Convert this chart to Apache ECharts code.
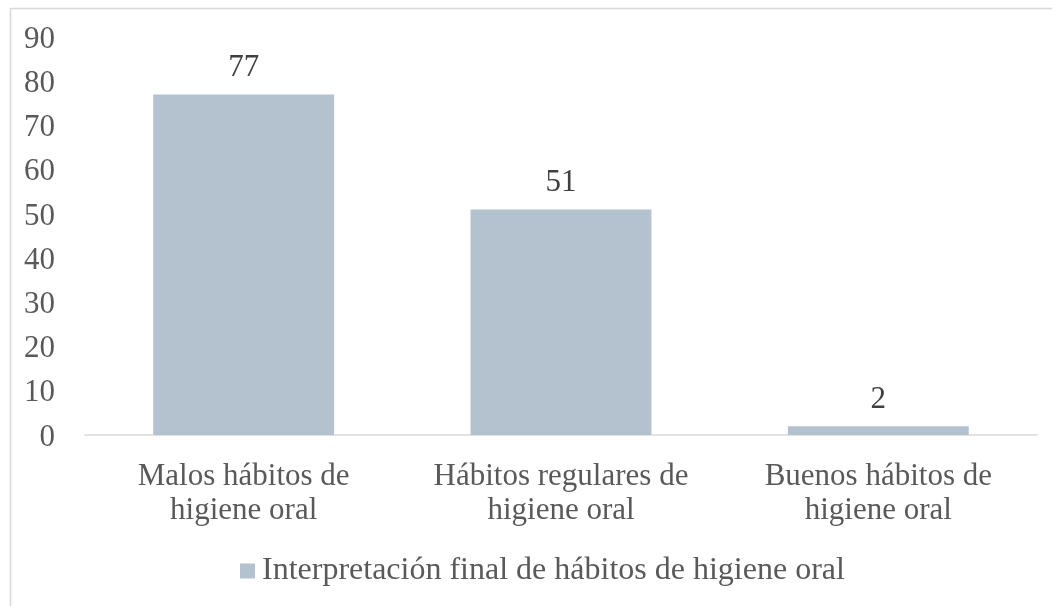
<!doctype html>
<html lang="es">
<head>
<meta charset="UTF-8"/>
<title>Hábitos de higiene oral</title>
<script src="https://cdn.jsdelivr.net/npm/echarts@6/dist/echarts.min.js"></script>
<style>
  html, body { margin: 0; padding: 0; background: #fff; }
  #main { width: 1052px; height: 606px; }
</style>
</head>
<body>
<div id="main"></div>
<script type="text/javascript">
// datos del gráfico
var categorias = ['Malos hábitos de\nhigiene oral', 'Hábitos regulares de\nhigiene oral', 'Buenos hábitos de\nhigiene oral'];
var valores = [77, 51, 2];
var nombreSerie = 'Interpretación final de hábitos de higiene oral';

var fuente = '"Liberation Serif", "Times New Roman", serif';
var myChart = echarts.init(document.getElementById('main'));
var option = {
  animation: false,
  color: ['#b4c1cf'],
  graphic: [{
    type: 'rect',
    left: 8, top: 6,
    shape: { width: 1070, height: 640 },
    style: { fill: 'none', stroke: '#d9d9d9', lineWidth: 1.5 },
    silent: true
  }],
  grid: { left: 85, right: 15, top: 37, bottom: 171 },
  legend: {
    top: 555,
    left: 240,
    padding: 0,
    itemWidth: 15,
    itemHeight: 15,
    icon: 'rect',
    textStyle: { fontFamily: fuente, fontSize: 32, color: '#595959', padding: [0, 0, 0, 2] },
    data: [nombreSerie]
  },
  xAxis: {
    type: 'category',
    data: categorias,
    axisLine: { lineStyle: { color: '#d9d9d9', width: 1.5 } },
    axisTick: { show: false },
    axisLabel: {
      interval: 0, hideOverlap: false,
      fontFamily: fuente, fontSize: 31, color: '#595959', lineHeight: 34, margin: 25
    }
  },
  yAxis: {
    type: 'value',
    min: 0, max: 90, interval: 10,
    axisLine: { show: false },
    axisTick: { show: false },
    splitLine: { show: false },
    axisLabel: {
      fontFamily: fuente, fontSize: 31, color: '#595959', margin: 30,
      verticalAlign: 'top', lineHeight: 5
    }
  },
  series: [{
    name: nombreSerie,
    type: 'bar',
    barWidth: '57%',
    data: valores,
    label: {
      show: true,
      position: 'top',
      distance: 11,
      fontFamily: fuente,
      fontSize: 31,
      color: '#404040'
    }
  }]
};
myChart.setOption(option);
</script>
</body>
</html>
